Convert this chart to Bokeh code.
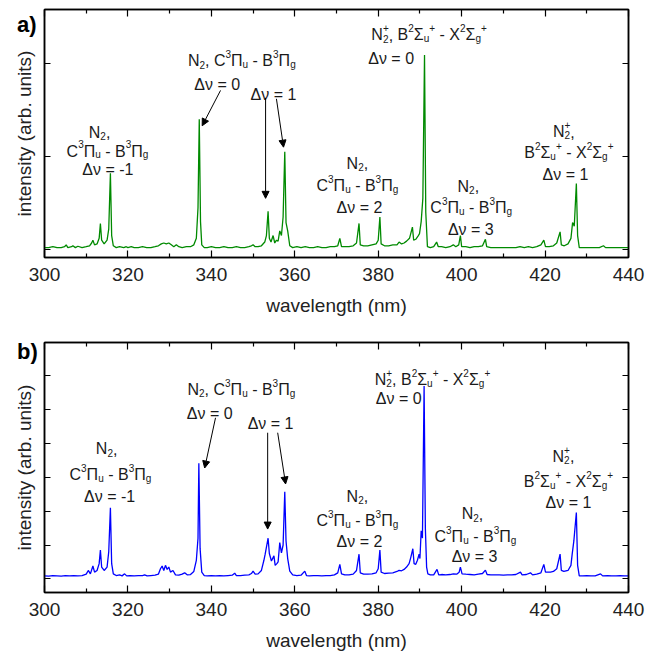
from bokeh.plotting import figure
from bokeh.models import (LinearAxis, FixedTicker, ColumnDataSource, Arrow,
                          NormalHead, Range1d, Div)
from bokeh.layouts import column
from bokeh.embed import file_html
from bokeh.resources import INLINE
from bokeh.core.properties import value

# ---------------- data ----------------
x_major_ticks = [300, 320, 340, 360, 380, 400, 420, 440]
x_minor_ticks = [310, 330, 350, 370, 390, 410, 430]
y_ticks_a = [0, 1, 2]
y_ticks_b = [0, 1, 2, 3, 4, 5, 6]

wl_a = [300.0, 301.0, 302.0, 303.0, 304.0, 304.8, 305.2, 305.6, 306.5, 306.8,
        307.4, 308.0, 309.0, 310.0, 310.8, 311.3, 311.6, 312.0, 312.6, 313.1,
        313.4, 313.7, 314.3, 315.0, 315.4, 315.8, 316.1, 316.5, 317.2, 318.0,
        319.0, 319.6, 320.0, 320.8, 321.5, 322.5, 323.5, 324.5, 325.5, 326.5,
        327.3, 328.0, 328.6, 329.2, 329.8, 330.4, 331.0, 331.6, 332.2, 333.0,
        334.0, 335.0, 335.8, 336.4, 336.8, 337.1, 337.4, 337.7, 338.3, 339.0,
        340.0, 341.0, 342.0, 343.0, 344.0, 345.0, 346.0, 347.0, 348.0, 349.0,
        349.6, 350.0, 350.5, 351.2, 352.0, 352.8, 353.2, 353.6, 353.9, 354.3,
        354.8, 355.2, 355.6, 356.0, 356.4, 356.8, 357.2, 357.6, 357.9, 358.3,
        358.8, 359.5, 360.5, 361.5, 362.5, 363.5, 364.5, 365.5, 366.5, 367.5,
        368.5, 369.5, 370.3, 370.8, 371.2, 372.0, 373.0, 374.0, 374.8, 375.4,
        375.7, 376.5, 377.5, 378.5, 379.5, 380.0, 380.4, 380.7, 381.5, 382.5,
        383.5, 384.5, 385.0, 385.6, 386.2, 386.8, 387.5, 388.2, 388.5, 389.0,
        389.5, 389.9, 390.3, 390.7, 391.1, 391.4, 391.8, 392.5, 393.3, 394.0,
        394.4, 395.2, 396.2, 397.2, 398.0, 398.6, 399.3, 399.7, 400.0, 401.0,
        402.0, 403.0, 404.0, 405.0, 405.7, 406.0, 407.0, 408.0, 409.0, 410.0,
        411.0, 412.0, 413.0, 414.0, 415.0, 416.0, 417.0, 418.0, 419.0, 419.7,
        420.1, 421.0, 422.0, 422.8, 423.6, 423.9, 424.6, 425.5, 426.2, 426.6,
        427.0, 427.5, 427.8, 428.2, 429.0, 430.0, 431.0, 432.0, 433.0, 434.0,
        434.5, 435.5, 436.5, 437.5, 438.5, 440.0]
int_a = [0.02, 0.02, 0.03, 0.02, 0.02, 0.03, 0.05, 0.02, 0.03, 0.04,
         0.02, 0.035, 0.02, 0.03, 0.04, 0.07, 0.10, 0.05, 0.06, 0.12,
         0.28, 0.10, 0.06, 0.10, 0.22, 0.82, 0.15, 0.04, 0.02, 0.03,
         0.02, 0.03, 0.02, 0.03, 0.02, 0.02, 0.03, 0.02, 0.02, 0.03,
         0.04, 0.06, 0.07, 0.06, 0.07, 0.05, 0.03, 0.05, 0.03, 0.02,
         0.03, 0.03, 0.05, 0.12, 0.45, 1.40, 0.30, 0.05, 0.02, 0.02,
         0.03, 0.02, 0.02, 0.03, 0.02, 0.02, 0.03, 0.02, 0.02, 0.03,
         0.04, 0.05, 0.03, 0.03, 0.04, 0.08, 0.15, 0.41, 0.12, 0.08,
         0.15, 0.07, 0.10, 0.09, 0.20, 0.15, 0.35, 1.05, 0.29, 0.20,
         0.04, 0.02, 0.03, 0.02, 0.03, 0.02, 0.02, 0.03, 0.02, 0.02,
         0.03, 0.03, 0.04, 0.12, 0.03, 0.03, 0.03, 0.04, 0.07, 0.28,
         0.05, 0.04, 0.04, 0.05, 0.06, 0.10, 0.35, 0.06, 0.04, 0.04,
         0.05, 0.05, 0.08, 0.06, 0.07, 0.09, 0.12, 0.24, 0.10, 0.11,
         0.14, 0.17, 0.30, 0.55, 2.09, 0.40, 0.03, 0.02, 0.03, 0.08,
         0.03, 0.03, 0.02, 0.03, 0.05, 0.03, 0.05, 0.15, 0.03, 0.03,
         0.02, 0.03, 0.03, 0.04, 0.11, 0.03, 0.02, 0.02, 0.02, 0.02,
         0.02, 0.02, 0.02, 0.03, 0.02, 0.03, 0.02, 0.03, 0.05, 0.10,
         0.03, 0.03, 0.04, 0.07, 0.19, 0.05, 0.04, 0.06, 0.12, 0.29,
         0.25, 0.71, 0.15, 0.02, 0.02, 0.02, 0.02, 0.02, 0.02, 0.04,
         0.02, 0.02, 0.02, 0.02, 0.02, 0.02]

wl_b = [300.0, 301.0, 302.0, 303.0, 304.0, 305.0, 306.0, 307.0, 308.0, 309.0,
        310.0, 310.5, 311.0, 311.6, 312.0, 312.6, 313.1, 313.4, 313.7, 314.3,
        315.0, 315.4, 315.8, 316.1, 316.5, 317.2, 318.0, 318.6, 319.2, 319.7,
        320.5, 321.5, 322.5, 323.5, 324.0, 324.6, 325.5, 326.5, 327.3, 327.8,
        328.2, 328.6, 329.0, 329.4, 329.8, 330.2, 330.8, 331.4, 332.2, 333.0,
        333.6, 334.2, 335.0, 335.8, 336.4, 336.8, 337.0, 337.3, 337.7, 338.3,
        339.0, 340.0, 341.0, 342.0, 343.0, 344.0, 345.0, 345.6, 346.0, 347.0,
        348.0, 349.0, 349.6, 350.0, 350.5, 351.2, 352.0, 352.6, 352.9, 353.6,
        353.9, 354.4, 355.0, 355.3, 355.7, 356.0, 356.4, 356.8, 357.2, 357.6,
        357.9, 358.3, 358.8, 359.5, 360.5, 361.5, 362.4, 362.8, 363.5, 364.5,
        365.5, 366.5, 367.5, 368.5, 369.5, 370.3, 370.8, 371.2, 372.0, 373.0,
        374.0, 374.8, 375.4, 375.7, 376.5, 377.5, 378.5, 379.5, 380.0, 380.4,
        380.7, 381.5, 382.5, 383.5, 384.5, 385.0, 385.6, 386.2, 386.8, 387.4,
        387.8, 388.3, 388.6, 389.0, 389.4, 389.8, 390.0, 390.3, 390.6, 391.0,
        391.3, 391.6, 391.9, 392.5, 393.3, 394.1, 394.5, 395.2, 396.2, 397.2,
        398.0, 398.8, 399.4, 399.7, 400.1, 401.0, 402.0, 403.0, 404.0, 405.0,
        405.7, 406.1, 407.0, 408.0, 409.0, 410.0, 411.0, 412.0, 413.0, 414.1,
        414.5, 415.5, 416.5, 417.0, 418.0, 419.0, 419.7, 420.1, 421.3, 422.0,
        422.8, 423.6, 423.9, 424.5, 425.5, 426.2, 426.5, 426.9, 427.5, 427.8,
        428.2, 429.0, 430.0, 431.0, 432.0, 433.3, 433.8, 435.0, 436.0, 437.0,
        438.0, 439.0, 440.0]
int_b = [0.09, 0.08, 0.10, 0.09, 0.08, 0.10, 0.09, 0.10, 0.09, 0.10,
         0.14, 0.25, 0.15, 0.38, 0.20, 0.25, 0.45, 0.85, 0.35, 0.25,
         0.35, 0.80, 2.10, 0.45, 0.15, 0.10, 0.12, 0.09, 0.15, 0.09,
         0.10, 0.09, 0.10, 0.10, 0.12, 0.09, 0.10, 0.11, 0.14, 0.30,
         0.38, 0.25, 0.40, 0.28, 0.35, 0.20, 0.25, 0.12, 0.11, 0.14,
         0.18, 0.12, 0.13, 0.22, 0.55, 1.20, 3.41, 0.90, 0.20, 0.10,
         0.09, 0.10, 0.09, 0.10, 0.09, 0.10, 0.11, 0.17, 0.10, 0.10,
         0.11, 0.12, 0.16, 0.23, 0.14, 0.15, 0.25, 0.55, 0.73, 1.20,
         0.75, 0.53, 0.68, 0.40, 0.45, 0.50, 1.07, 0.77, 1.00, 2.57,
         1.12, 0.60, 0.23, 0.12, 0.10, 0.11, 0.23, 0.10, 0.09, 0.10,
         0.10, 0.09, 0.10, 0.10, 0.12, 0.18, 0.43, 0.15, 0.12, 0.12,
         0.14, 0.25, 0.73, 0.18, 0.14, 0.14, 0.15, 0.18, 0.30, 0.85,
         0.20, 0.16, 0.17, 0.18, 0.22, 0.25, 0.24, 0.28, 0.35, 0.45,
         0.63, 0.89, 0.45, 0.43, 0.55, 0.73, 0.60, 1.42, 1.20, 5.69,
         1.50, 0.35, 0.15, 0.12, 0.12, 0.28, 0.12, 0.13, 0.12, 0.13,
         0.15, 0.14, 0.20, 0.35, 0.15, 0.14, 0.13, 0.12, 0.14, 0.16,
         0.26, 0.13, 0.12, 0.12, 0.12, 0.11, 0.12, 0.12, 0.13, 0.20,
         0.12, 0.13, 0.18, 0.12, 0.14, 0.18, 0.43, 0.20, 0.20, 0.22,
         0.30, 0.73, 0.25, 0.22, 0.25, 0.40, 0.73, 1.12, 1.96, 0.40,
         0.09, 0.09, 0.10, 0.09, 0.09, 0.15, 0.09, 0.10, 0.09, 0.09,
         0.10, 0.09, 0.09]

# ---------------- annotation text pieces ----------------
SEG_N2 = [("N", "n"), ("2", "sub"), (",", "n")]
SEG_CB = [("C", "n"), ("3", "sup"), ("Π", "n"), ("u", "sub"), (" - B", "n"),
          ("3", "sup"), ("Π", "n"), ("g", "sub")]
SEG_N2_CB = [("N", "n"), ("2", "sub"), (", C", "n"), ("3", "sup"), ("Π", "n"),
             ("u", "sub"), (" - B", "n"), ("3", "sup"), ("Π", "n"), ("g", "sub")]
SEG_N2P = [("N", "n"), ("2", "subst"), ("+", "sup"), (",", "n")]
SEG_BX = [("B", "n"), ("2", "sup"), ("Σ", "n"), ("u", "sub"), ("+", "sup"),
          (" - X", "n"), ("2", "sup"), ("Σ", "n"), ("g", "sub"), ("+", "sup")]
SEG_N2P_BX = [("N", "n"), ("2", "subst"), ("+", "sup"), (", ", "n")] + SEG_BX


def dv(k):
    return [("Δν = " + k, "n")]


# annotation lines: (x [nm], y [data], pieces)
notes_a = [
    (313.2, 1.32, SEG_N2), (315.1, 1.12, SEG_CB), (315.2, 0.92, dv("-1")),
    (347.3, 2.09, SEG_N2_CB), (341.4, 1.84, dv("0")),
    (354.9, 1.73, dv("1")),
    (392.2, 2.37, SEG_N2P_BX), (383.1, 2.11, dv("0")),
    (375.0, 0.99, SEG_N2), (375.0, 0.75, SEG_CB), (375.5, 0.51, dv("2")),
    (401.6, 0.74, SEG_N2), (402.3, 0.51, SEG_CB), (402.2, 0.28, dv("3")),
    (424.5, 1.33, SEG_N2P), (425.7, 1.10, SEG_BX), (424.9, 0.87, dv("1")),
]
arrows_a = [(342.2, 1.71, 337.8, 1.33), (353.0, 1.63, 353.0, 0.55),
            (355.6, 1.62, 357.3, 1.10)]

notes_b = [
    (314.9, 4.01, SEG_N2), (315.8, 3.25, SEG_CB), (315.6, 2.60, dv("-1")),
    (347.2, 5.75, SEG_N2_CB), (339.6, 5.04, dv("0")),
    (354.2, 4.75, dv("1")),
    (393.0, 6.05, SEG_N2P_BX), (384.9, 5.49, dv("0")),
    (375.0, 2.60, SEG_N2), (375.0, 1.89, SEG_CB), (375.5, 1.27, dv("2")),
    (402.6, 2.09, SEG_N2), (403.3, 1.42, SEG_CB), (403.1, 0.83, dv("3")),
    (424.4, 3.78, SEG_N2P), (425.6, 3.04, SEG_BX), (425.6, 2.42, dv("1")),
]
arrows_b = [(341.0, 4.75, 338.4, 3.27), (353.5, 4.31, 353.5, 1.47),
            (355.9, 4.31, 357.8, 2.80)]

# ---------------- helpers ----------------
FONT = "Liberation Sans"
FS = 16.0      # normal annotation size (px)
FS_S = 10.0    # sub/superscript size (px)
ADV = {'N': .722, 'C': .722, 'B': .667, 'X': .667, 'Δ': .668, 'Π': .722,
       'Σ': .618, 'ν': .5, 'u': .556, 'g': .556, '+': .584, ',': .278,
       ' ': .278, '-': .333, '=': .584}


def text_width(s, size):
    return sum(ADV.get(ch, .556) for ch in s) * size


def layout_notes(notes):
    xs, ys, txt, xo, yo, fs = [], [], [], [], [], []
    for (x, y, pieces) in notes:
        total = 0.0
        for (s, kind) in pieces:
            if kind == "subst":
                continue
            total += text_width(s, FS if kind == "n" else FS_S)
        cur = -total / 2.0
        base = 0.36 * FS
        for (s, kind) in pieces:
            size = FS if kind == "n" else FS_S
            if kind == "n":
                dy = base
            elif kind == "sup":
                dy = base - 0.42 * FS
            else:
                dy = base + 0.24 * FS
            lead = len(s) - len(s.lstrip(" "))
            shown = s.strip(" ")
            if shown:
                xs.append(x); ys.append(y); txt.append(shown)
                xo.append(cur + text_width(" " * lead, size))
                yo.append(dy); fs.append("%dpx" % size)
            if kind != "subst":
                cur += text_width(s, size)
    return ColumnDataSource(dict(x=xs, y=ys, text=txt, xo=xo, yo=yo, fs=fs))


def make_panel(wl, inten, color, y_lo, y_hi, yticks, frame_h, b_top, b_bottom,
               notes, arrows):
    p = figure(frame_width=584, frame_height=frame_h,
               x_range=Range1d(300, 440), y_range=Range1d(y_lo, y_hi),
               output_backend="svg", toolbar_location=None,
               min_border_left=44, min_border_right=20,
               min_border_top=b_top, min_border_bottom=b_bottom,
               background_fill_color="white", border_fill_color=None)
    p.grid.visible = False
    p.outline_line_color = "black"
    p.outline_line_width = 1.5

    bottom_ax = p.below[0]
    left_ax = p.left[0]

    xt = FixedTicker(ticks=x_major_ticks, minor_ticks=x_minor_ticks)
    yt = FixedTicker(ticks=yticks, minor_ticks=[])

    bottom_ax.ticker = xt
    left_ax.ticker = yt
    top_ax = LinearAxis(ticker=xt)
    right_ax = LinearAxis(ticker=yt)
    p.add_layout(top_ax, "above")
    p.add_layout(right_ax, "right")

    for ax in [bottom_ax, left_ax, top_ax, right_ax]:
        ax.axis_line_color = "black"
        ax.axis_line_width = 1.5
        ax.major_tick_line_color = "black"
        ax.major_tick_line_width = 1.2
        ax.minor_tick_line_color = "black"
        ax.minor_tick_line_width = 1.2
        ax.major_tick_out = 0
        ax.minor_tick_out = 0
        ax.major_label_text_font = FONT
        ax.major_label_text_color = "#222222"
        ax.axis_label_text_font = FONT
        ax.axis_label_text_font_style = "normal"
        ax.axis_label_text_color = "#222222"
        ax.axis_label_text_font_size = "19px"
    for ax in [bottom_ax, top_ax]:
        ax.major_tick_in = 7
        ax.minor_tick_in = 4
    for ax in [left_ax, right_ax]:
        ax.major_tick_in = 6
        ax.minor_tick_in = 0
    for ax in [top_ax, right_ax, left_ax]:
        ax.major_label_text_font_size = "0px"
        ax.major_label_standoff = 0
    top_ax.major_label_overrides = {t: "" for t in x_major_ticks}
    right_ax.major_label_overrides = {t: "" for t in yticks}
    left_ax.major_label_overrides = {t: "" for t in yticks}

    bottom_ax.major_label_text_font_size = "19px"
    bottom_ax.major_label_standoff = 10
    bottom_ax.axis_label = "wavelength (nm)"
    bottom_ax.axis_label_standoff = 11
    left_ax.axis_label = "intensity (arb. units)"
    left_ax.axis_label_standoff = 10

    p.line(wl, inten, line_color=color, line_width=1.3)

    src = layout_notes(notes)
    p.text(x="x", y="y", text="text", x_offset="xo", y_offset="yo",
           text_font_size="fs", text_font=value(FONT), text_color="#1a1a1a",
           text_align="left", text_baseline="alphabetic", source=src)

    for (x0, y0, x1, y1) in arrows:
        p.add_layout(Arrow(x_start=x0, y_start=y0, x_end=x1, y_end=y1,
                           line_color="black", line_width=1.0,
                           end=NormalHead(size=7, fill_color="black",
                                          line_color="black")))
    return p


def panel_tag(text, left, top):
    return Div(text=text, styles={
        "position": "absolute", "left": "%dpx" % left, "top": "%dpx" % top,
        "font-family": FONT, "font-size": "22px", "font-weight": "bold",
        "line-height": "24px", "color": "black", "margin": "0",
        "z-index": "10"})


pa = make_panel(wl_a, int_a, "#008a00", -0.086, 2.58, y_ticks_a, 248, 9, 62,
                notes_a, arrows_a)
pb = make_panel(wl_b, int_b, "#0000ff", -0.40, 6.97, y_ticks_b, 250, 23, 56,
                notes_b, arrows_b)

tag_a = panel_tag("a)", 17, 13)
tag_b = panel_tag("b)", 17, 340)

layout = column(pa, pb, tag_a, tag_b, spacing=0)
open("out.html", "w").write(file_html(layout, INLINE))
